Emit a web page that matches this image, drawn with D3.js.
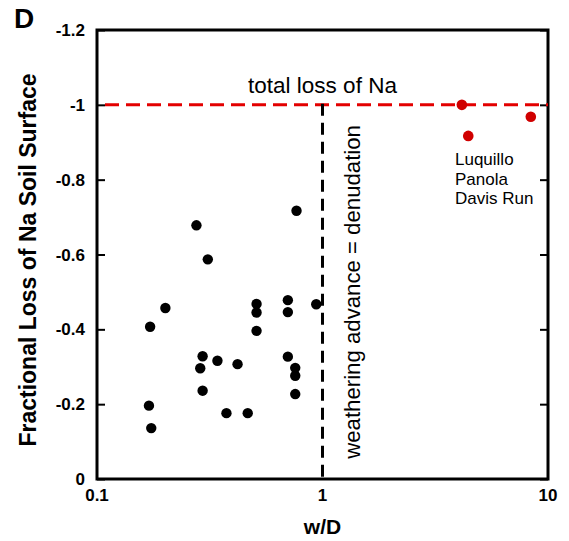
<!DOCTYPE html>
<html>
<head>
<meta charset="utf-8">
<script src="https://cdn.jsdelivr.net/npm/d3@7"></script>
<style>
  html, body { margin: 0; padding: 0; background: #fff; }
  svg { display: block; font-family: "Liberation Sans", Arial, Helvetica, sans-serif; }
</style>
</head>
<body>
<svg id="chart" width="569" height="541"></svg>
<script>
// ---- data ----
const blackX = [0.767, 0.276, 0.310, 0.201, 0.172, 0.510, 0.510, 0.510, 0.702, 0.702, 0.938,
                0.294, 0.342, 0.287, 0.420, 0.702, 0.757, 0.757, 0.294, 0.757, 0.170, 0.375, 0.466, 0.174];
const blackY = [-0.717, -0.678, -0.587, -0.457, -0.407, -0.468, -0.445, -0.396, -0.478, -0.446, -0.467,
                -0.328, -0.316, -0.296, -0.307, -0.327, -0.297, -0.276, -0.236, -0.227, -0.196, -0.176, -0.176, -0.136];
const redX = [4.15, 4.43, 8.39];
const redY = [-1.0, -0.917, -0.968];
const siteNames = ["Luquillo", "Panola", "Davis Run"];
const xTicks = [0.1, 1, 10];
const xTickLabels = ["0.1", "1", "10"];
const yTicks = [0, -0.2, -0.4, -0.6, -0.8, -1, -1.2];
const yTickLabels = ["0", "-0.2", "-0.4", "-0.6", "-0.8", "-1", "-1.2"];
const totalLoss = -1;
const wdEqual = 1;

// ---- layout ----
const L = 97, R = 548, T = 30, B = 479;
const svg = d3.select("#chart");
const x = d3.scaleLog().domain([0.1, 10]).range([L, R]);
const y = d3.scaleLinear().domain([0, -1.2]).range([B, T]);

// y ticks (left, inward) and right (inward)
const yAxisL = d3.axisRight(y).tickValues(yTicks).tickSize(8).tickFormat("");
const yAxisR = d3.axisLeft(y).tickValues(yTicks).tickSize(8).tickFormat("");
svg.append("g").attr("transform", `translate(${L},0)`).call(yAxisL)
  .call(g => g.select(".domain").remove())
  .selectAll("line").attr("stroke", "#000").attr("stroke-width", 2);
svg.append("g").attr("transform", `translate(${R},0)`).call(yAxisR)
  .call(g => g.select(".domain").remove())
  .selectAll("line").attr("stroke", "#000").attr("stroke-width", 2);

// frame
svg.append("rect").attr("x", L).attr("y", T).attr("width", R - L).attr("height", B - T)
  .attr("fill", "none").attr("stroke", "#000").attr("stroke-width", 3);

// y tick labels
svg.append("g").selectAll("text").data(yTicks).join("text")
  .attr("x", L - 12).attr("y", d => y(d) + 6)
  .attr("text-anchor", "end").attr("font-size", 17).attr("font-weight", "bold")
  .text((d, i) => yTickLabels[i]);

// x tick labels
svg.append("g").selectAll("text").data(xTicks).join("text")
  .attr("x", d => x(d)).attr("y", B + 22)
  .attr("text-anchor", "middle").attr("font-size", 17).attr("font-weight", "bold")
  .text((d, i) => xTickLabels[i]);

// red dashed line: total loss
svg.append("line")
  .attr("x1", x(0.1) + 8).attr("x2", x(10)).attr("y1", y(totalLoss)).attr("y2", y(totalLoss))
  .attr("stroke", "#e30000").attr("stroke-width", 3).attr("stroke-dasharray", "14,7");

// black dashed vertical: w/D = 1
svg.append("line")
  .attr("x1", x(wdEqual)).attr("x2", x(wdEqual)).attr("y1", y(totalLoss) - 1).attr("y2", y(0))
  .attr("stroke", "#000").attr("stroke-width", 3).attr("stroke-dasharray", "12,7");

// black points
svg.append("g").selectAll("circle").data(blackX).join("circle")
  .attr("cx", d => x(d)).attr("cy", (d, i) => y(blackY[i])).attr("r", 5.2).attr("fill", "#000");

// red points
svg.append("g").selectAll("circle").data(redX).join("circle")
  .attr("cx", d => x(d)).attr("cy", (d, i) => y(redY[i])).attr("r", 5.3).attr("fill", "#d00000");

// annotations
svg.append("text").attr("x", x(wdEqual)).attr("y", y(totalLoss) - 12)
  .attr("text-anchor", "middle").attr("font-size", 22.5).text("total loss of Na");

svg.append("text")
  .attr("transform", `translate(360,${(y(totalLoss) + y(0)) / 2}) rotate(-90)`)
  .attr("text-anchor", "middle").attr("font-size", 22.2).text("weathering advance = denudation");

svg.append("g").selectAll("text").data(siteNames).join("text")
  .attr("x", 455).attr("y", (d, i) => 165 + i * 19.5)
  .attr("font-size", 17).text(d => d);

// axis titles
svg.append("text").attr("x", (L + R) / 2).attr("y", 534)
  .attr("text-anchor", "middle").attr("font-size", 21).attr("font-weight", "bold").text("w/D");

svg.append("text")
  .attr("transform", `translate(36,260) rotate(-90)`)
  .attr("text-anchor", "middle").attr("font-size", 23).attr("font-weight", "bold")
  .text("Fractional Loss of Na Soil Surface");

// panel letter
svg.append("text").attr("x", 14).attr("y", 28)
  .attr("font-size", 28).attr("font-weight", "bold").text("D");
</script>
</body>
</html>
